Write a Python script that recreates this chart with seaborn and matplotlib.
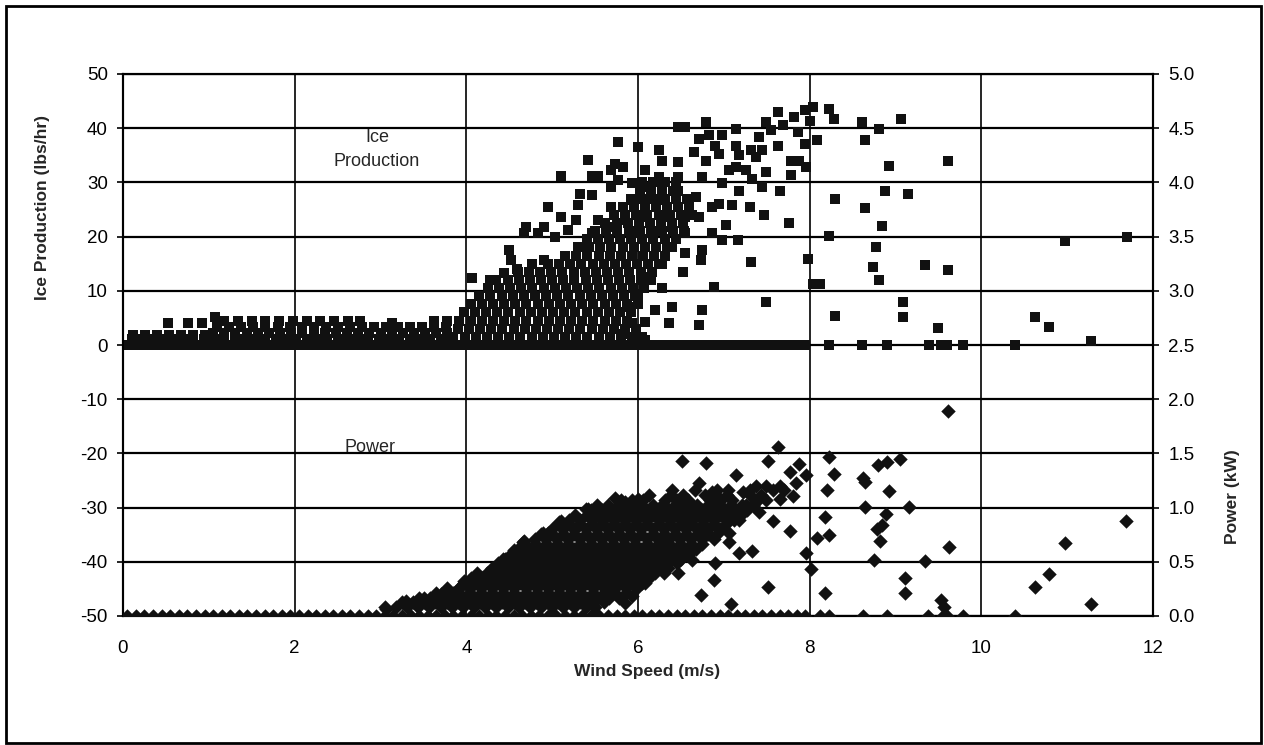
import matplotlib
matplotlib.use("Agg")
import matplotlib.pyplot as plt
from matplotlib.patches import Rectangle
from matplotlib.ticker import FormatStrFormatter
import pandas as pd
import seaborn as sns

# ---------------- data (wind speed m/s, value) ----------------
# Ice production (lbs/hr)
ice_zero_pts = [
    (0.05,0),(0.15,0),(0.25,0),(0.35,0),(0.45,0),(0.55,0),(0.65,0),(0.75,0),(0.85,0),(0.95,0),
    (1.05,0),(1.15,0),(1.25,0),(1.35,0),(1.45,0),(1.55,0),(1.65,0),(1.75,0),(1.85,0),(1.95,0),
    (2.05,0),(2.15,0),(2.25,0),(2.35,0),(2.45,0),(2.55,0),(2.65,0),(2.75,0),(2.85,0),(2.95,0),
    (3.05,0),(3.15,0),(3.25,0),(3.35,0),(3.45,0),(3.55,0),(3.65,0),(3.75,0),(3.85,0),(3.95,0),
    (4.05,0),(4.15,0),(4.25,0),(4.35,0),(4.45,0),(4.55,0),(4.65,0),(4.75,0),(4.85,0),(4.95,0),
    (5.05,0),(5.15,0),(5.25,0),(5.35,0),(5.45,0),(5.55,0),(5.65,0),(5.75,0),(5.85,0),(5.95,0),
    (6.05,0),(6.15,0),(6.25,0),(6.35,0),(6.45,0),(6.55,0),(6.65,0),(6.75,0),(6.85,0),(6.95,0),
    (7.05,0),(7.15,0),(7.25,0),(7.35,0),(7.45,0),(7.55,0),(7.65,0),(7.75,0),(7.85,0),(7.95,0),
    (8.22,0),(8.61,0),(8.9,0),(9.39,0),(9.53,0),(9.6,0),(9.79,0),(10.39,0),
]
ice_band_pts = [
    (0.1,1.1),(0.22,1.1),(0.34,1.1),(0.46,1.1),(0.58,1.1),(0.7,1.1),(0.82,1.1),(0.94,1.1),
    (1.06,1.1),(1.18,1.1),(1.3,1.1),(1.42,1.1),(1.54,1.1),(1.66,1.1),(1.78,1.1),(1.9,1.1),
    (2.02,1.1),(2.14,1.1),(2.26,1.1),(2.38,1.1),(2.5,1.1),(2.62,1.1),(2.74,1.1),(2.86,1.1),
    (2.98,1.1),(3.1,1.1),(3.22,1.1),(3.34,1.1),(3.46,1.1),(3.58,1.1),(3.7,1.1),(3.82,1.1),
    (0.12,1.9),(0.26,1.9),(0.4,1.9),(0.54,1.9),(0.68,1.9),(0.82,1.9),(0.96,1.9),
    (1.05,2.3),(1.18,2.3),(1.31,2.3),(1.44,2.3),(1.57,2.3),(1.7,2.3),(1.83,2.3),(1.96,2.3),
    (2.09,2.3),(2.22,2.3),(2.35,2.3),(2.48,2.3),(2.61,2.3),(2.74,2.3),(2.87,2.3),(3.0,2.3),
    (3.13,2.3),(3.26,2.3),(3.39,2.3),(3.52,2.3),(3.65,2.3),(3.78,2.3),
    (1.1,3.4),(1.24,3.4),(1.38,3.4),(1.52,3.4),(1.66,3.4),(1.8,3.4),(1.94,3.4),(2.08,3.4),
    (2.22,3.4),(2.36,3.4),(2.5,3.4),(2.64,3.4),(2.78,3.4),(2.92,3.4),(3.06,3.4),(3.2,3.4),
    (3.34,3.4),(3.48,3.4),(3.62,3.4),(3.76,3.4),
    (1.18,4.5),(1.34,4.5),(1.5,4.5),(1.66,4.5),(1.82,4.5),(1.98,4.5),(2.14,4.5),(2.3,4.5),
    (2.46,4.5),(2.62,4.5),(2.76,4.5),(3.62,4.5),(3.78,4.5),
    (0.52,4.1),(0.76,4.1),(0.92,4.1),(1.07,5.2),(3.13,4.1),
]
ice_cluster_pts = [
    (3.85,1.5),(3.98,1.5),(4.11,1.5),(4.24,1.5),(4.37,1.5),(4.5,1.5),(4.63,1.5),(4.76,1.5),(4.89,1.5),
    (5.02,1.5),(5.15,1.5),(5.28,1.5),(5.41,1.5),(5.54,1.5),(5.67,1.5),(5.8,1.5),(5.93,1.5),(6.05,1.5),
    (3.9,3.0),(4.03,3.0),(4.16,3.0),(4.29,3.0),(4.42,3.0),(4.55,3.0),(4.68,3.0),(4.81,3.0),(4.94,3.0),
    (5.07,3.0),(5.2,3.0),(5.33,3.0),(5.46,3.0),(5.59,3.0),(5.72,3.0),(5.85,3.0),(5.98,3.0),
    (3.92,4.5),(4.05,4.5),(4.18,4.5),(4.31,4.5),(4.44,4.5),(4.57,4.5),(4.7,4.5),(4.83,4.5),
    (4.96,4.5),(5.09,4.5),(5.22,4.5),(5.35,4.5),(5.48,4.5),(5.61,4.5),(5.74,4.5),(5.87,4.5),
    (3.97,6.0),(4.1,6.0),(4.23,6.0),(4.36,6.0),(4.49,6.0),(4.62,6.0),(4.75,6.0),(4.88,6.0),
    (5.01,6.0),(5.14,6.0),(5.27,6.0),(5.4,6.0),(5.53,6.0),(5.66,6.0),(5.79,6.0),(5.92,6.0),
    (4.05,7.5),(4.18,7.5),(4.31,7.5),(4.44,7.5),(4.57,7.5),(4.7,7.5),(4.83,7.5),(4.96,7.5),
    (5.09,7.5),(5.22,7.5),(5.35,7.5),(5.48,7.5),(5.61,7.5),(5.74,7.5),(5.87,7.5),(6.0,7.5),
    (4.15,9.0),(4.28,9.0),(4.41,9.0),(4.54,9.0),(4.67,9.0),(4.8,9.0),(4.93,9.0),(5.06,9.0),
    (5.19,9.0),(5.32,9.0),(5.45,9.0),(5.58,9.0),(5.71,9.0),(5.84,9.0),(5.97,9.0),
    (4.25,10.5),(4.38,10.5),(4.51,10.5),(4.64,10.5),(4.77,10.5),(4.9,10.5),(5.03,10.5),(5.16,10.5),
    (5.29,10.5),(5.42,10.5),(5.55,10.5),(5.68,10.5),(5.81,10.5),(5.94,10.5),(6.07,10.5),
    (4.35,12.0),(4.48,12.0),(4.61,12.0),(4.74,12.0),(4.87,12.0),(5.0,12.0),(5.13,12.0),(5.26,12.0),
    (5.39,12.0),(5.52,12.0),(5.65,12.0),(5.78,12.0),(5.91,12.0),(6.04,12.0),(6.15,12.0),
    (4.6,13.5),(4.73,13.5),(4.86,13.5),(4.99,13.5),(5.12,13.5),(5.25,13.5),(5.38,13.5),
    (5.51,13.5),(5.64,13.5),(5.77,13.5),(5.9,13.5),(6.03,13.5),(6.16,13.5),
    (4.95,15.0),(5.08,15.0),(5.21,15.0),(5.34,15.0),(5.47,15.0),(5.6,15.0),(5.73,15.0),
    (5.86,15.0),(5.99,15.0),(6.12,15.0),(6.25,15.0),
    (5.15,16.5),(5.28,16.5),(5.41,16.5),(5.54,16.5),(5.67,16.5),(5.8,16.5),(5.93,16.5),
    (6.06,16.5),(6.19,16.5),(6.32,16.5),
    (5.3,18.0),(5.43,18.0),(5.56,18.0),(5.69,18.0),(5.82,18.0),(5.95,18.0),(6.08,18.0),(6.21,18.0),(6.34,18.0),
    (5.4,19.5),(5.53,19.5),(5.66,19.5),(5.79,19.5),(5.92,19.5),(6.05,19.5),(6.18,19.5),(6.31,19.5),(6.44,19.5),
    (5.5,21.0),(5.63,21.0),(5.76,21.0),(5.89,21.0),(6.02,21.0),(6.15,21.0),(6.28,21.0),(6.41,21.0),(6.54,21.0),
    (5.62,22.5),(5.75,22.5),(5.88,22.5),(6.01,22.5),(6.14,22.5),(6.27,22.5),(6.4,22.5),(6.53,22.5),
    (5.72,24.0),(5.85,24.0),(5.98,24.0),(6.11,24.0),(6.24,24.0),(6.37,24.0),(6.5,24.0),(6.63,24.0),
    (5.82,25.5),(5.95,25.5),(6.08,25.5),(6.21,25.5),(6.34,25.5),(6.47,25.5),(6.6,25.5),
    (5.92,27.0),(6.05,27.0),(6.18,27.0),(6.31,27.0),(6.44,27.0),(6.57,27.0),
    (6.02,28.5),(6.15,28.5),(6.28,28.5),(6.41,28.5),
]
ice_scatter_pts = [
    (5.77,37.4),(6.0,36.6),(5.42,34.2),(5.1,31.1),(5.46,31.1),(5.53,31.1),(5.73,33.4),(5.83,32.8),
    (6.24,35.9),(6.55,40.2),(6.47,40.2),(6.79,41.1),(7.14,39.9),(6.98,38.7),(7.14,36.8),(7.49,41.1),
    (7.63,42.9),(7.94,43.3),(8.04,43.9),(8.22,43.6),(8.28,41.7),(8.08,37.9),(7.88,34.0),(7.78,34.0),
    (7.96,32.8),(7.78,31.3),(7.49,31.9),(7.65,28.5),(7.45,29.1),(8.3,27.0),(8.22,20.2),(7.98,15.8),
    (8.04,11.3),(8.12,11.3),(8.3,5.4),(7.49,8.0),(7.76,22.6),(7.47,23.9),(7.3,25.5),(7.32,15.3),
    (6.88,10.7),(6.75,6.4),(6.71,3.6),(6.4,7.1),(6.36,4.0),(6.2,6.4),(6.08,4.3),(6.28,10.6),
    (6.53,13.5),(6.75,17.5),(6.73,15.6),(6.98,19.3),(7.17,19.3),(7.02,22.1),(6.86,20.6),(7.1,25.8),
    (6.94,26.1),(7.26,32.2),(7.14,32.8),(7.18,35.0),(7.38,34.7),(7.41,38.3),(7.32,35.9),(7.55,39.6),
    (7.69,40.5),(7.82,42.0),(8.0,41.4),(7.86,39.3),(7.94,37.1),(7.63,36.8),(7.45,35.9),(6.83,38.7),
    (6.9,36.8),(6.71,38.0),(6.65,35.6),(6.47,33.7),(6.28,34.0),(6.08,32.2),(6.24,31.0),(6.47,31.0),
    (6.79,34.0),(6.94,35.3),(7.06,32.2),(7.33,30.7),(7.18,28.5),(6.98,29.8),(6.75,31.0),(6.86,25.5),
    (6.67,27.3),(6.71,23.6),(6.55,20.6),(6.4,18.1),(6.55,16.9),(6.28,15.0),(6.12,12.6),(6.0,9.5),
    (5.91,7.1),(5.93,4.0),(5.81,2.1),(6.08,0.9),
    (4.07,12.3),(4.28,12.0),(4.44,13.2),(4.59,14.1),(4.77,15.0),(4.91,15.6),(4.5,17.5),(4.52,15.6),
    (4.67,20.6),(4.69,21.8),(4.83,20.6),(4.95,25.5),(4.91,21.8),(5.1,23.6),(5.28,23.0),(5.53,23.0),
    (5.32,27.9),(5.46,27.6),(5.3,25.8),(5.69,25.5),(5.69,29.1),(5.77,30.4),(5.93,29.8),(5.69,32.2),
    (5.03,19.9),(5.18,21.2),(5.38,18.1),(5.46,20.6),(5.65,21.8),(5.85,23.0),(6.08,23.6),(6.28,23.6),
    (6.28,26.7),(6.08,26.7),(6.47,25.5),(5.93,26.7),(5.93,20.6),(6.16,20.6),(6.4,21.8),(6.47,28.5),
    (6.28,29.1),(6.08,29.1),(6.55,23.6),(6.05,30.0),(6.18,30.0),(6.31,30.0),(6.44,30.0),
    (8.61,41.1),(8.64,37.9),(8.81,39.9),(9.06,41.7),(8.92,33.1),(9.61,33.9),(8.88,28.5),(9.15,27.9),
    (8.64,25.3),(8.84,21.9),(8.77,18.0),(8.74,14.4),(8.81,12.0),(9.34,14.7),(9.61,13.9),(9.09,7.9),
    (9.09,5.1),(9.5,3.1),(10.62,5.2),(10.79,3.4),(10.97,19.1),(11.28,0.7),(11.7,19.9),
]

# Power (kW)
power_zero_pts = [
    (0.05,0),(0.15,0),(0.25,0),(0.35,0),(0.45,0),(0.55,0),(0.65,0),(0.75,0),(0.85,0),(0.95,0),
    (1.05,0),(1.15,0),(1.25,0),(1.35,0),(1.45,0),(1.55,0),(1.65,0),(1.75,0),(1.85,0),(1.95,0),
    (2.05,0),(2.15,0),(2.25,0),(2.35,0),(2.45,0),(2.55,0),(2.65,0),(2.75,0),(2.85,0),(2.95,0),
    (3.05,0),(3.15,0),(3.25,0),(3.35,0),(3.45,0),(3.55,0),(3.65,0),(3.75,0),(3.85,0),(3.95,0),
    (4.05,0),(4.15,0),(4.25,0),(4.35,0),(4.45,0),(4.55,0),(4.65,0),(4.75,0),(4.85,0),(4.95,0),
    (5.05,0),(5.15,0),(5.25,0),(5.35,0),(5.45,0),(5.55,0),(5.65,0),(5.75,0),(5.85,0),(5.95,0),
    (6.05,0),(6.15,0),(6.25,0),(6.35,0),(6.45,0),(6.55,0),(6.65,0),(6.75,0),(6.85,0),(6.95,0),
    (7.05,0),(7.15,0),(7.25,0),(7.35,0),(7.45,0),(7.55,0),(7.65,0),(7.75,0),(7.85,0),(7.95,0),
    (8.12,0),(8.22,0),(8.62,0),(8.9,0),(9.38,0),(9.55,0),(9.6,0),(9.79,0),(10.39,0),
]
power_cluster_pts = [
    (3.05,0.08),(3.18,0.08),(3.31,0.08),(3.44,0.08),(3.57,0.08),(3.7,0.08),(3.83,0.08),(3.96,0.08),
    (4.09,0.08),(4.22,0.08),(4.35,0.08),(4.48,0.08),(4.61,0.08),(4.74,0.08),(4.87,0.08),(5.0,0.08),
    (5.13,0.08),(5.26,0.08),(5.39,0.08),(5.5,0.08),
    (3.25,0.125),(3.38,0.125),(3.51,0.125),(3.64,0.125),(3.77,0.125),(3.9,0.125),(4.03,0.125),
    (4.16,0.125),(4.29,0.125),(4.42,0.125),(4.55,0.125),(4.68,0.125),(4.81,0.125),(4.94,0.125),
    (5.07,0.125),(5.2,0.125),(5.33,0.125),(5.46,0.125),(5.6,0.125),
    (3.45,0.17),(3.58,0.17),(3.71,0.17),(3.84,0.17),(3.97,0.17),(4.1,0.17),(4.23,0.17),(4.36,0.17),
    (4.49,0.17),(4.62,0.17),(4.75,0.17),(4.88,0.17),(5.01,0.17),(5.14,0.17),(5.27,0.17),(5.4,0.17),
    (5.53,0.17),(5.66,0.17),(5.78,0.17),
    (3.65,0.215),(3.78,0.215),(3.91,0.215),(4.04,0.215),(4.17,0.215),(4.3,0.215),(4.43,0.215),
    (4.56,0.215),(4.69,0.215),(4.82,0.215),(4.95,0.215),(5.08,0.215),(5.21,0.215),(5.34,0.215),
    (5.47,0.215),(5.6,0.215),(5.73,0.215),(5.86,0.215),
    (3.78,0.26),(3.91,0.26),(4.04,0.26),(4.17,0.26),(4.3,0.26),(4.43,0.26),(4.56,0.26),(4.69,0.26),
    (4.82,0.26),(4.95,0.26),(5.08,0.26),(5.21,0.26),(5.34,0.26),(5.47,0.26),(5.6,0.26),(5.73,0.26),
    (5.86,0.26),(5.99,0.26),
    (3.97,0.305),(4.1,0.305),(4.23,0.305),(4.36,0.305),(4.49,0.305),(4.62,0.305),(4.75,0.305),
    (4.88,0.305),(5.01,0.305),(5.14,0.305),(5.27,0.305),(5.4,0.305),(5.53,0.305),(5.66,0.305),
    (5.79,0.305),(5.92,0.305),(6.05,0.305),
    (4.05,0.35),(4.18,0.35),(4.31,0.35),(4.44,0.35),(4.57,0.35),(4.7,0.35),(4.83,0.35),(4.96,0.35),
    (5.09,0.35),(5.22,0.35),(5.35,0.35),(5.48,0.35),(5.61,0.35),(5.74,0.35),(5.87,0.35),(6.0,0.35),(6.13,0.35),
    (4.12,0.395),(4.25,0.395),(4.38,0.395),(4.51,0.395),(4.64,0.395),(4.77,0.395),(4.9,0.395),
    (5.03,0.395),(5.16,0.395),(5.29,0.395),(5.42,0.395),(5.55,0.395),(5.68,0.395),(5.81,0.395),
    (5.94,0.395),(6.07,0.395),(6.2,0.395),(6.3,0.395),
    (4.3,0.44),(4.43,0.44),(4.56,0.44),(4.69,0.44),(4.82,0.44),(4.95,0.44),(5.08,0.44),(5.21,0.44),
    (5.34,0.44),(5.47,0.44),(5.6,0.44),(5.73,0.44),(5.86,0.44),(5.99,0.44),(6.12,0.44),(6.25,0.44),(6.35,0.44),
    (4.37,0.485),(4.5,0.485),(4.63,0.485),(4.76,0.485),(4.89,0.485),(5.02,0.485),(5.15,0.485),
    (5.28,0.485),(5.41,0.485),(5.54,0.485),(5.67,0.485),(5.8,0.485),(5.93,0.485),(6.06,0.485),
    (6.19,0.485),(6.32,0.485),(6.45,0.485),
    (4.45,0.53),(4.58,0.53),(4.71,0.53),(4.84,0.53),(4.97,0.53),(5.1,0.53),(5.23,0.53),(5.36,0.53),
    (5.49,0.53),(5.62,0.53),(5.75,0.53),(5.88,0.53),(6.01,0.53),(6.14,0.53),(6.27,0.53),(6.4,0.53),(6.5,0.53),
    (4.52,0.575),(4.65,0.575),(4.78,0.575),(4.91,0.575),(5.04,0.575),(5.17,0.575),(5.3,0.575),
    (5.43,0.575),(5.56,0.575),(5.69,0.575),(5.82,0.575),(5.95,0.575),(6.08,0.575),(6.21,0.575),
    (6.34,0.575),(6.47,0.575),(6.6,0.575),
    (4.6,0.62),(4.73,0.62),(4.86,0.62),(4.99,0.62),(5.12,0.62),(5.25,0.62),(5.38,0.62),(5.51,0.62),
    (5.64,0.62),(5.77,0.62),(5.9,0.62),(6.03,0.62),(6.16,0.62),(6.29,0.62),(6.42,0.62),(6.55,0.62),(6.68,0.62),
    (4.67,0.665),(4.8,0.665),(4.93,0.665),(5.06,0.665),(5.19,0.665),(5.32,0.665),(5.45,0.665),
    (5.58,0.665),(5.71,0.665),(5.84,0.665),(5.97,0.665),(6.1,0.665),(6.23,0.665),(6.36,0.665),
    (6.49,0.665),(6.62,0.665),(6.75,0.665),
    (4.8,0.71),(4.93,0.71),(5.06,0.71),(5.19,0.71),(5.32,0.71),(5.45,0.71),(5.58,0.71),(5.71,0.71),
    (5.84,0.71),(5.97,0.71),(6.1,0.71),(6.23,0.71),(6.36,0.71),(6.49,0.71),(6.62,0.71),(6.75,0.71),(6.88,0.71),
    (4.87,0.755),(5.0,0.755),(5.13,0.755),(5.26,0.755),(5.39,0.755),(5.52,0.755),(5.65,0.755),
    (5.78,0.755),(5.91,0.755),(6.04,0.755),(6.17,0.755),(6.3,0.755),(6.43,0.755),(6.56,0.755),
    (6.69,0.755),(6.82,0.755),(6.92,0.755),
    (5.0,0.8),(5.13,0.8),(5.26,0.8),(5.39,0.8),(5.52,0.8),(5.65,0.8),(5.78,0.8),(5.91,0.8),
    (6.04,0.8),(6.17,0.8),(6.3,0.8),(6.43,0.8),(6.56,0.8),(6.69,0.8),(6.82,0.8),(6.95,0.8),
    (5.07,0.845),(5.2,0.845),(5.33,0.845),(5.46,0.845),(5.59,0.845),(5.72,0.845),(5.85,0.845),
    (5.98,0.845),(6.11,0.845),(6.24,0.845),(6.37,0.845),(6.5,0.845),(6.63,0.845),(6.76,0.845),
    (6.89,0.845),(7.02,0.845),
    (5.2,0.89),(5.33,0.89),(5.46,0.89),(5.59,0.89),(5.72,0.89),(5.85,0.89),(5.98,0.89),(6.11,0.89),
    (6.24,0.89),(6.37,0.89),(6.5,0.89),(6.63,0.89),(6.76,0.89),(6.89,0.89),(7.02,0.89),(7.12,0.89),
    (5.27,0.935),(5.4,0.935),(5.53,0.935),(5.66,0.935),(5.79,0.935),(5.92,0.935),(6.05,0.935),
    (6.18,0.935),(6.31,0.935),(6.44,0.935),(6.57,0.935),(6.7,0.935),(6.83,0.935),(6.96,0.935),
    (7.09,0.935),(7.2,0.935),
    (5.45,0.98),(5.58,0.98),(5.71,0.98),(5.84,0.98),(5.97,0.98),(6.1,0.98),(6.23,0.98),(6.36,0.98),
    (6.49,0.98),(6.62,0.98),(6.75,0.98),(6.88,0.98),(7.01,0.98),(7.14,0.98),(7.27,0.98),
    (5.52,1.025),(5.65,1.025),(5.78,1.025),(5.91,1.025),(6.04,1.025),(6.17,1.025),(6.3,1.025),
    (6.43,1.025),(6.56,1.025),(6.69,1.025),(6.82,1.025),(6.95,1.025),(7.08,1.025),(7.21,1.025),(7.34,1.025),
    (5.8,1.07),(5.93,1.07),(6.06,1.07),(6.32,1.07),(6.45,1.07),(6.58,1.07),(6.84,1.07),(6.97,1.07),
    (7.1,1.07),(7.36,1.07),(7.49,1.07),
    (6.13,1.115),(6.39,1.115),(6.52,1.115),(6.78,1.115),(6.91,1.115),(7.04,1.115),(7.3,1.115),(7.43,1.115),
    (6.4,1.16),(6.66,1.16),(6.92,1.16),(7.05,1.16),(7.31,1.16),(7.57,1.16),(7.7,1.16),
]
power_scatter_pts = [
    (6.51,1.43),(6.79,1.41),(7.63,1.56),(7.51,1.43),(7.88,1.4),(7.77,1.33),(7.14,1.3),(8.22,1.47),
    (8.28,1.31),(8.2,1.16),(8.18,0.91),(8.08,0.72),(8.22,0.75),(7.96,0.58),(8.02,0.43),(8.18,0.21),
    (7.77,0.78),(7.51,0.27),(7.08,0.11),(6.88,0.33),(6.73,0.19),(6.9,0.49),(7.33,0.6),(7.18,0.58),
    (7.06,0.68),(7.57,0.88),(7.41,0.96),(7.26,1.02),(7.22,1.14),(7.38,1.2),(7.49,1.2),(7.65,1.2),
    (7.84,1.23),(7.96,1.3),(7.65,1.08),(7.81,1.11),(7.41,1.08),(7.06,0.77),(7.18,0.89),(7.02,0.96),
    (6.86,1.14),(6.71,1.23),(6.86,1.05),(6.63,1.02),(6.47,1.05),(6.28,1.02),(6.0,1.08),(5.73,1.09),
    (5.85,1.05),(5.42,0.99),(5.53,0.92),(5.1,0.88),(5.3,0.83),(4.95,0.77),(4.67,0.69),(4.56,0.61),
    (4.48,0.52),(4.32,0.43),(4.13,0.37),(3.97,0.32),(3.85,0.21),(3.73,0.18),(6.28,0.43),(6.08,0.3),
    (5.93,0.18),(5.85,0.12),(6.47,0.4),(6.63,0.52),(6.47,0.64),(6.71,0.77),(6.55,0.83),(6.28,0.71),
    (6.08,0.55),(5.93,0.4),(5.69,0.21),(5.46,0.12),
    (3.06,0.06),(3.3,0.14),(3.51,0.17),(3.71,0.2),(3.9,0.25),(4.24,0.4),(4.43,0.53),(4.66,0.68),
    (4.89,0.77),(5.08,0.87),(5.39,0.99),
    (9.61,1.89),(9.05,1.45),(8.9,1.42),(8.8,1.39),(8.62,1.27),(8.64,1.24),(8.93,1.15),(8.64,1.01),
    (9.16,1.01),(8.89,0.94),(8.84,0.84),(8.78,0.8),(8.82,0.69),(8.75,0.52),(9.34,0.51),(9.62,0.64),
    (9.11,0.35),(9.11,0.21),(9.53,0.15),(9.57,0.08),(10.63,0.27),(10.79,0.39),(10.97,0.67),
    (11.28,0.11),(11.69,0.88),
]

x_ticks = [0, 2, 4, 6, 8, 10, 12]
left_ticks = [-50, -40, -30, -20, -10, 0, 10, 20, 30, 40, 50]
right_ticks = [0.0, 0.5, 1.0, 1.5, 2.0, 2.5, 3.0, 3.5, 4.0, 4.5, 5.0]

# ---------------- figure ----------------
sns.set_style("white")
plt.rcParams["font.family"] = ["Liberation Sans", "DejaVu Sans"]
plt.rcParams["axes.unicode_minus"] = False

W, H = 1264, 745
fig = plt.figure(figsize=(W / 100, H / 100), dpi=100)
L, R, T, B = 123, 1153, 74, 616
ax = fig.add_axes([L / W, 1 - B / H, (R - L) / W, (B - T) / H])
ax2 = ax.twinx()

ice_df = pd.DataFrame(ice_zero_pts + ice_band_pts + ice_cluster_pts + ice_scatter_pts,
                      columns=["wind", "ice"])
pow_df = pd.DataFrame(power_zero_pts + power_cluster_pts + power_scatter_pts,
                      columns=["wind", "power"])

ink = "#111111"
sns.scatterplot(data=ice_df, x="wind", y="ice", marker="s", s=62, color=ink,
                linewidth=0, ax=ax, legend=False, zorder=3)
sns.scatterplot(data=pow_df, x="wind", y="power", marker="D", s=54, color=ink,
                linewidth=0, ax=ax2, legend=False, zorder=3)

ax.set_xlim(0, 12)
ax.set_ylim(-50, 50)
ax2.set_ylim(0, 5)
ax.set_xticks(x_ticks)
ax.set_yticks(left_ticks)
ax2.set_yticks(right_ticks)
ax2.yaxis.set_major_formatter(FormatStrFormatter("%.1f"))

ax.set_axisbelow(True)
ax.yaxis.grid(True, color="black", lw=1.6)
ax.xaxis.grid(True, color="black", lw=1.2)
ax2.grid(False)

for a in (ax, ax2):
    for sp in a.spines.values():
        sp.set_color("black")
        sp.set_linewidth(1.5)

ax.tick_params(axis="x", length=0, pad=17, labelsize=13.5, colors="black")
ax.tick_params(axis="y", direction="out", length=4, width=1.2, pad=7, labelsize=13.5,
               colors="black", left=True)
ax2.tick_params(axis="y", direction="out", length=4, width=1.2, pad=7, labelsize=13.5,
                colors="black", right=True)

ax.set_ylabel("")
ax2.set_ylabel("")
ax.set_xlabel("Wind Speed (m/s)", fontsize=12.5, fontweight="bold")
ax.xaxis.set_label_coords((647 - L) / (R - L), (B - 664) / (B - T))

fig.text(43 / W, 1 - 207 / H, "Ice Production (lbs/hr)", rotation=90, ha="center",
         va="center", fontsize=12.5, fontweight="bold")
fig.text(1232 / W, 1 - 497 / H, "Power (kW)", rotation=90, ha="center",
         va="center", fontsize=12.5, fontweight="bold")

ax.text(2.96, 38.3, "Ice", ha="center", va="center", fontsize=13, zorder=5)
ax.text(2.96, 33.8, "Production", ha="center", va="center", fontsize=13, zorder=5)
ax.text(2.88, -19.0, "Power", ha="center", va="center", fontsize=13, zorder=5)

fig.add_artist(Rectangle((6 / W, 2 / H), (1261 - 6) / W, (741 - 4) / H,
                         transform=fig.transFigure, fill=False, lw=2, ec="black"))

fig.savefig("out.png", dpi=100)
